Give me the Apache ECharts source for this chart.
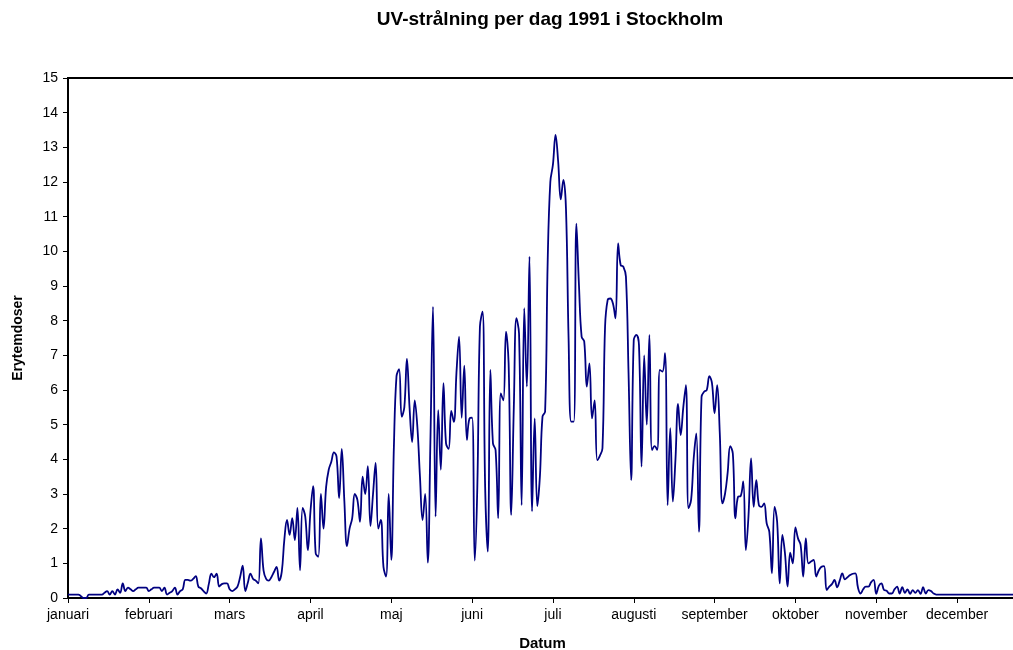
<!DOCTYPE html>
<html>
<head>
<meta charset="utf-8">
<script src="https://cdn.jsdelivr.net/npm/echarts@6/dist/echarts.min.js"></script>
<style>
  html, body { margin: 0; padding: 0; background: #fff; }
  #chart { width: 1013px; height: 650px; }
</style>
</head>
<body>
<div id="chart"></div>
<script>
// månadsnamn för x-axelns etiketter
const monthNames = ['januari', 'februari', 'mars', 'april', 'maj', 'juni',
  'juli', 'augusti', 'september', 'oktober', 'november', 'december'];

// UV-doser per dag (erytemdoser)
const uvJan = [0.1, 0.1, 0.1, 0.1, 0.1, 0.05, 0, 0, 0.1, 0.1,
  0.1, 0.1, 0.1, 0.1, 0.15, 0.2, 0.1, 0.2, 0.1, 0.25,
  0.15, 0.42, 0.2, 0.3, 0.25, 0.2, 0.25, 0.3, 0.3, 0.3, 0.3];
const uvFeb = [0.2, 0.25, 0.3, 0.3, 0.3, 0.2, 0.3, 0.1, 0.15, 0.2,
  0.3, 0.1, 0.2, 0.25, 0.52, 0.52, 0.5, 0.55, 0.63, 0.33,
  0.28, 0.2, 0.13, 0.4, 0.7, 0.6, 0.7, 0.33];
const uvMar = [0.4, 0.42, 0.42, 0.25, 0.2, 0.25, 0.33, 0.6, 0.93, 0.2,
  0.45, 0.7, 0.55, 0.5, 0.42, 1.72, 0.8, 0.55, 0.5, 0.6,
  0.75, 0.9, 0.5, 0.76, 1.7, 2.25, 1.82, 2.3, 1.67, 2.6, 0.8];
const uvApr = [2.6, 2.35, 1.38, 2.5, 3.23, 1.29, 1.19, 3.0, 2.0, 3.2,
  3.7, 3.93, 4.2, 4.08, 2.88, 4.3, 2.8, 1.5, 2.0, 2.3,
  3.0, 2.83, 2.2, 3.5, 3.0, 3.8, 2.08, 3.0, 3.9, 2.0];
const uvMaj = [2.25, 0.9, 0.62, 3.0, 1.1, 4.37, 6.4, 6.6, 5.23, 5.5,
  6.9, 5.5, 4.5, 5.7, 4.94, 3.5, 2.25, 3.0, 1.02, 4.5,
  8.4, 2.35, 5.42, 3.7, 6.2, 4.46, 4.3, 5.4, 5.08, 6.5, 7.54];
const uvJun = [5.2, 6.7, 4.56, 5.18, 5.2, 1.08, 3.2, 7.83, 8.26, 3.2,
  1.34, 6.58, 4.46, 4.27, 2.3, 5.9, 5.7, 7.68, 6.77, 2.4,
  5.5, 8.07, 7.63, 2.68, 8.36, 6.1, 9.85, 2.5, 5.18, 2.65];
const uvJul = [3.5, 5.23, 5.38, 9.75, 12.0, 12.5, 13.36, 12.6, 11.5, 12.06,
  11.24, 7.5, 5.09, 5.09, 10.8, 9.0, 7.54, 7.4, 6.1, 6.77,
  5.18, 5.7, 3.98, 4.1, 4.32, 7.83, 8.6, 8.64, 8.5, 8.07, 10.23];
const uvAug = [9.6, 9.56, 9.27, 6.5, 3.4, 7.44, 7.59, 7.3, 3.79, 7.0,
  5.0, 7.59, 4.27, 4.38, 4.27, 6.58, 6.53, 7.06, 2.68, 4.9,
  2.78, 4.0, 5.6, 4.7, 5.5, 6.14, 2.59, 2.83, 4.03, 4.75, 1.91];
const uvSep = [5.8, 5.95, 6.0, 6.4, 6.2, 5.33, 6.14, 4.75, 2.73, 3.0,
  3.6, 4.38, 4.17, 2.3, 2.92, 2.94, 3.36, 1.38, 2.35, 4.03,
  2.63, 3.4, 2.68, 2.63, 2.73, 2.15, 1.91, 0.71, 2.63, 2.2];
const uvOkt = [0.42, 1.82, 1.29, 0.33, 1.31, 1.0, 2.04, 1.72, 1.53, 0.62,
  1.72, 1.0, 1.05, 1.1, 0.62, 0.8, 0.9, 0.92, 0.23, 0.33,
  0.4, 0.52, 0.31, 0.5, 0.71, 0.54, 0.6, 0.66, 0.7, 0.71, 0.3];
const uvNov = [0.13, 0.25, 0.33, 0.33, 0.45, 0.52, 0.12, 0.35, 0.42, 0.23,
  0.21, 0.13, 0.13, 0.25, 0.33, 0.13, 0.31, 0.15, 0.25, 0.12,
  0.23, 0.15, 0.23, 0.12, 0.31, 0.13, 0.23, 0.2, 0.13, 0.1];
const uvDec = [0.1, 0.1, 0.1, 0.1, 0.1, 0.1, 0.1, 0.1, 0.1, 0.1,
  0.1, 0.1, 0.1, 0.1, 0.1, 0.1, 0.1, 0.1, 0.1, 0.1,
  0.1, 0.1, 0.1, 0.1, 0.1, 0.1, 0.1, 0.1, 0.1, 0.1, 0.1];

const uvValues = [].concat(uvJan, uvFeb, uvMar, uvApr, uvMaj, uvJun,
  uvJul, uvAug, uvSep, uvOkt, uvNov, uvDec);

// datum för varje dag 1991
const dates = [];
for (let i = 0; i < uvValues.length; i++) {
  const d = new Date(Date.UTC(1991, 0, 1 + i));
  dates.push(d.toISOString().slice(0, 10));
}

const font = "'Liberation Sans', Arial, sans-serif";
const myChart = echarts.init(document.getElementById('chart'));

myChart.setOption({
  animation: false,
  title: {
    text: 'UV-strålning per dag 1991 i Stockholm',
    left: 545,
    top: 5,
    textAlign: 'center',
    textStyle: { fontFamily: font, fontSize: 19, fontWeight: 'bold', color: '#000' }
  },
  grid: {
    left: 68,
    right: -4,
    top: 78,
    bottom: 52,
    outerBoundsMode: 'none',
    containLabel: false,
    show: true,
    borderColor: '#000',
    borderWidth: 2
  },
  xAxis: {
    type: 'category',
    data: dates,
    boundaryGap: false,
    name: 'Datum',
    nameLocation: 'middle',
    nameGap: 38,
    nameTextStyle: { fontFamily: font, fontSize: 15, fontWeight: 'bold', color: '#000' },
    axisLine: { lineStyle: { color: '#000', width: 2 } },
    axisTick: { interval: 30, length: 5, lineStyle: { color: '#000' } },
    axisLabel: {
      interval: 30,
      margin: 10,
      fontFamily: font,
      fontSize: 14,
      color: '#000',
      formatter: (v) => monthNames[new Date(v).getUTCMonth()]
    },
    splitLine: { show: false }
  },
  yAxis: {
    type: 'value',
    min: 0,
    max: 15,
    interval: 1,
    name: 'Erytemdoser',
    nameLocation: 'middle',
    nameGap: 43,
    nameTextStyle: { fontFamily: font, fontSize: 14, fontWeight: 'bold', color: '#000' },
    axisLine: { show: true, lineStyle: { color: '#000', width: 2 } },
    axisTick: { show: true, length: 5, lineStyle: { color: '#000' } },
    axisLabel: { margin: 10, fontFamily: font, fontSize: 14, color: '#000' },
    splitLine: { show: false }
  },
  series: [{
    name: 'UV',
    type: 'line',
    data: uvValues,
    smooth: 0.4,
    showSymbol: false,
    lineStyle: { color: '#000080', width: 1.8 }
  }]
});
</script>
</body>
</html>
